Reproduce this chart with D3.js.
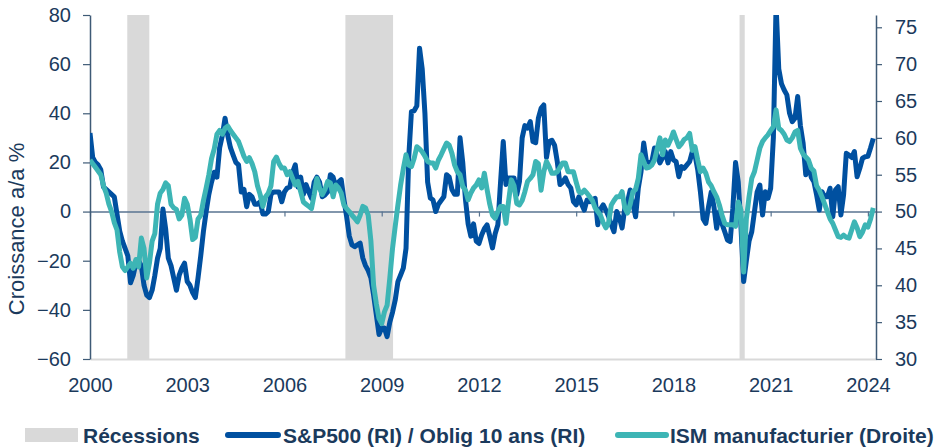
<!DOCTYPE html>
<html>
<head>
<meta charset="utf-8">
<script src="https://cdn.jsdelivr.net/npm/d3@7"></script>
<style>
    body { margin: 0; background: #fff; }
    svg { display: block; font-family: "Liberation Sans", Arial, sans-serif; }
</style>
</head>
<body>
<script>
// monthly values, January 2000 onwards
const firstYear = 2000;
const spBondRel = [
    32, 22, 20, 19, 17, 10, 9, 8, 7, 6, -1, -8,                          // 2000
    -12, -15, -18, -29, -26, -21, -20, -22, -30, -34, -35, -32,          // 2001
    -26, -19, -15, 1, -7, -19, -22, -27, -32, -26, -23, -21,             // 2002
    -28.5, -30, -33, -35, -27, -18, -8, 0, 7, 12, 16, 14,                // 2003
    26, 31, 38, 31, 26, 23, 20, 19, 8, 9, 2, 7,                          // 2004
    6, 3, 3, 4, -1, -1, 0, 7, 8, 8, 8, 4,                                // 2005
    8, 9.6, 10, 16, 19, 10, 14, 7, 11, 8, 5.4, 12,                       // 2006
    14, 12, 6, 6.8, 8, 15, 14, 10, 12, 13, 5, -2,                        // 2007
    -10, -13.6, -14.3, -13.5, -12.8, -18.9, -22, -24, -27, -34, -42, -50, // 2008
    -47.4, -47.4, -50.9, -45, -41, -36, -28.5, -25.8, -23, -15, 22, 40.7, // 2009
    41, 43, 66.5, 58, 40, 12, 5.5, 4.7, 0, 3, 4.5, 6,                    // 2010
    15, 14, 9, 7, 7, 30, 20, 5, -5, -10, -5, -12,                        // 2011
    -13, -9.5, -7, -5.4, -10, -14.8, -9, -5.4, 12, 28.5, 11, 13.7,       // 2012
    13.7, 13.7, 6.8, 12.2, 30, 35, 34, 36.6, 28.5, 28, 38, 42,           // 2013
    43.4, 22, 28.5, 29, 27, 20.3, 11, 12, 13.7, 11, 9.6, 4,              // 2014
    2.7, 6, 3, 0.6, 4.7, 4, 4.5, 5.4, -5.4, 1, 2.7, 0.5,                 // 2015
    -2, -5.4, -8.2, 0, -2.6, -6.7, 1.4, 4, 8.8, 3, -2.1, 9.6,            // 2016
    16.2, 27.9, 20.3, 20, 20.3, 25.9, 23, 19.8, 22, 24.4, 19.8, 24.4,    // 2017
    21, 20.3, 14.2, 18.3, 17.6, 19, 20.3, 24.4, 23, 17, 8, -3,           // 2018
    -4.8, 2, 8, 2, -6.8, 0, -5, -8.2, -11.6, -12.2, 1.3, 20,             // 2019
    12, -6, -28.5, -20, -12, -8.2, 0, 8, 10.8, -1.4, 8.1, 5.4,           // 2020
    9.5, 30, 84, 58, 52, 49.5, 47.5, 40, 36.6, 38, 46.8, 35,             // 2021
    28, 15, 20.3, 14, 12.2, 6.8, 0.6, 8.1, 6, 6, 9.5, -2.1,              // 2022
    8.8, 10.1, -1.4, 6.8, 23.7, 23, 22, 24.4, 14.2, 17.6, 21.7, 22.3,    // 2023
    22.5, 26, 29.8                                                       // 2024
];
const ismPmi = [
    57, 56.5, 56, 55.5, 55, 53.5, 52.5, 51, 50, 48.5, 47.5, 44.5,        // 2000
    42.5, 42, 42.5, 43, 42.3, 43.5, 42.5, 46.4, 45, 41, 43, 46,          // 2001
    47, 51, 52.5, 53, 53.9, 53.5, 51, 50.5, 50.3, 49, 49.5, 51.8,        // 2002
    51, 49, 46.2, 46.5, 49, 49.5, 51.5, 53.2, 55, 57.2, 58.5, 60.5,      // 2003
    61, 60.5, 61.3, 61.6, 61, 60.5, 60, 59.5, 58.5, 57.5, 56.8, 57.3,    // 2004
    56.5, 55.4, 53.5, 52.3, 50.7, 52, 52.5, 53.5, 56.8, 57.4, 56.5, 55.9, // 2005
    55.9, 55, 55.4, 54.5, 53.6, 54.1, 52.7, 51.3, 51, 50.7, 50.4, 52.3,  // 2006
    54.5, 53.2, 52.3, 53, 54.1, 53.9, 52, 53.6, 53.2, 52.5, 50.9, 50.4,  // 2007
    50, 49.5, 49.1, 48.6, 49.5, 50.7, 50.5, 49.5, 46, 40, 37.5, 35.5,    // 2008
    34.8, 36.4, 37.3, 41, 45, 48, 50.9, 53.6, 55.8, 57.7, 56.3, 56.1,    // 2009
    57.2, 58.8, 58.5, 58.1, 57.5, 56.8, 56.6, 56.6, 55.9, 57, 57.7, 58.5, // 2010
    59.3, 59, 57.9, 56.3, 55.4, 55, 53.4, 52.9, 51.6, 52.5, 53.2, 53.6,  // 2011
    54.3, 53.2, 55.2, 53, 51, 49.5, 49.1, 50, 50.7, 50.7, 48.4, 51.5,    // 2012
    54.3, 53.5, 51.1, 50.9, 51.5, 52.7, 54.1, 54.5, 55, 56.8, 56.5, 52.9, // 2013
    55.4, 56.8, 56.1, 55.2, 55.2, 55.4, 56, 56.6, 56.6, 55.4, 55.4, 55.4, // 2014
    54, 52.7, 52.5, 52.9, 52.5, 52, 51.5, 50.5, 50, 49.5, 48.5, 47.8,    // 2015
    48.5, 50.9, 51.5, 52, 52, 52.7, 50.5, 49.8, 51, 52.7, 53, 54.5,      // 2016
    57.7, 56.8, 55.9, 56, 56.3, 57, 58.5, 60, 57.7, 59.7, 59, 59.8,      // 2017
    60.8, 59.8, 58.8, 59.2, 59.8, 60, 60.6, 58.3, 58.8, 57, 55.4, 55.9,  // 2018
    55.2, 54, 53.5, 52.7, 52, 50.9, 49.5, 48.4, 48.2, 48.2, 48.2, 48,    // 2019
    51.3, 50.2, 41.8, 49, 52, 54.5, 55.4, 57, 58.6, 59.5, 60, 60.4,      // 2020
    61, 61.5, 63.8, 61.3, 61, 60.5, 59.7, 59.5, 60, 60.8, 61, 58.6,      // 2021
    57.8, 57.4, 57, 55.9, 55.5, 53.5, 52.9, 52, 51, 50, 49, 48.4,        // 2022
    47.5, 46.6, 46.5, 46.8, 46.5, 46.4, 47.5, 48.6, 47.8, 46.6, 47.2, 48.2, // 2023
    47.9, 49, 50.5                                                       // 2024
];
// recessions as [start, end] in decimal years
const recessions = [[2001.15, 2001.83], [2007.88, 2009.35], [2020.04, 2020.2]];

const leftTicks = [-60, -40, -20, 0, 20, 40, 60, 80];
const rightTicks = [30, 35, 40, 45, 50, 55, 60, 65, 70, 75];
const yearTicks = [2000, 2003, 2006, 2009, 2012, 2015, 2018, 2021, 2024];

const legendLabels = ["Récessions", "S&P500 (RI) / Oblig 10 ans (RI)", "ISM manufacturier (Droite)"];

const textColor = "#1b3a5c",
    axisColor = "#3e5a76",
    blue = "#0050a0",
    teal = "#3db5b5",
    grey = "#d9d9d9";

const width = 937, height = 448;
const plot = { left: 90, right: 876, top: 15, bottom: 359 };

const x = d3.scaleLinear().domain([2000, 2024.25]).range([plot.left, plot.right]);
const yLeft = d3.scaleLinear().domain([-60, 80]).range([plot.bottom, plot.top]);
const yRight = d3.scaleLinear().domain([30, 50 + 80 / 3]).range([plot.bottom, plot.top]);

const svg = d3.select("body").append("svg")
    .attr("width", width)
    .attr("height", height);

svg.append("clipPath").attr("id", "plot-clip")
    .append("rect")
    .attr("x", plot.left).attr("y", plot.top)
    .attr("width", plot.right - plot.left).attr("height", plot.bottom - plot.top);

// recession bars
svg.append("g").selectAll("rect")
    .data(recessions)
    .join("rect")
    .attr("x", d => x(d[0]))
    .attr("y", plot.top)
    .attr("width", d => x(d[1]) - x(d[0]))
    .attr("height", plot.bottom - plot.top)
    .attr("fill", grey);

// bottom axis, labels only
const xLabels = svg.append("g")
    .attr("transform", "translate(0," + plot.bottom + ")")
    .call(d3.axisBottom(x).tickValues(yearTicks).tickFormat(d3.format("d")).tickSize(0).tickPadding(19));
xLabels.select(".domain").attr("stroke", grey).attr("stroke-width", 2);

// zero line with ticks
const zeroAxis = svg.append("g")
    .attr("transform", "translate(0," + yLeft(0) + ")")
    .call(d3.axisBottom(x).tickValues(yearTicks).tickFormat("").tickSize(5).tickSizeOuter(0));
zeroAxis.select(".domain").attr("stroke", "#587390").attr("stroke-width", 1.6);
zeroAxis.selectAll(".tick line").attr("stroke", "#587390").attr("stroke-width", 1.2);

const left = svg.append("g")
    .attr("transform", "translate(" + plot.left + ",0)")
    .call(d3.axisLeft(yLeft).tickValues(leftTicks).tickSize(7).tickSizeOuter(0).tickPadding(12));

const right = svg.append("g")
    .attr("transform", "translate(" + plot.right + ",0)")
    .call(d3.axisRight(yRight).tickValues(rightTicks).tickSize(6).tickSizeOuter(0).tickPadding(13));

[left, right].forEach(g => {
    g.select(".domain").attr("stroke", axisColor).attr("stroke-width", 1.5);
    g.selectAll(".tick line").attr("stroke", axisColor).attr("stroke-width", 1.2);
});
[xLabels, left, right].forEach(g => {
    g.selectAll("text")
        .attr("fill", textColor)
        .style("font-size", "20px")
        .style("font-family", '"Liberation Sans", Arial, sans-serif');
});

// series
const monthX = i => x(firstYear + i / 12);
const lines = svg.append("g").attr("clip-path", "url(#plot-clip)");
lines.append("path")
    .datum(spBondRel)
    .attr("fill", "none")
    .attr("stroke", blue)
    .attr("stroke-width", 5)
    .attr("stroke-linejoin", "round")
    .attr("d", d3.line().x((d, i) => monthX(i)).y(d => yLeft(d)));
lines.append("path")
    .datum(ismPmi)
    .attr("fill", "none")
    .attr("stroke", teal)
    .attr("stroke-width", 5)
    .attr("stroke-linejoin", "round")
    .attr("d", d3.line().x((d, i) => monthX(i)).y(d => yRight(d)));

// y title
svg.append("text")
    .attr("transform", "translate(24,229) rotate(-90)")
    .attr("text-anchor", "middle")
    .attr("fill", textColor)
    .style("font-size", "22px")
    .text("Croissance a/a %");

// legend
const legend = svg.append("g").attr("transform", "translate(0,435)");
legend.append("rect")
    .attr("x", 25).attr("y", -7).attr("width", 53).attr("height", 14)
    .attr("fill", grey);
legend.append("line")
    .attr("x1", 228).attr("x2", 278).attr("stroke", blue)
    .attr("stroke-width", 6).attr("stroke-linecap", "round");
legend.append("line")
    .attr("x1", 618).attr("x2", 666).attr("stroke", teal)
    .attr("stroke-width", 6).attr("stroke-linecap", "round");
legend.selectAll("text")
    .data(legendLabels)
    .join("text")
    .attr("x", (d, i) => [83, 283, 670][i])
    .attr("y", 7.5)
    .attr("fill", textColor)
    .style("font-size", "21px")
    .style("font-weight", "bold")
    .text(d => d);
</script>
</body>
</html>
